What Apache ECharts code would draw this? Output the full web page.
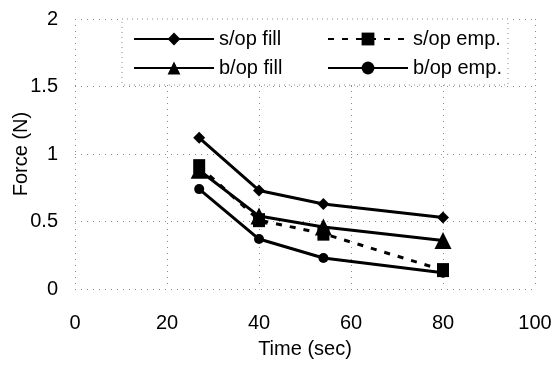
<!DOCTYPE html>
<html>
<head>
<meta charset="utf-8">
<script src="https://cdn.jsdelivr.net/npm/echarts@6/dist/echarts.min.js"></script>
<style>
  html, body { margin: 0; padding: 0; background: #fff; }
  #chart { width: 555px; height: 365px; }
</style>
</head>
<body>
<div id="chart"></div>
<script>
// Time (sec) at which each force was measured
const times = [27, 40, 54, 80];

// Force (N) for each condition
const sopFill = [1.12, 0.73, 0.63, 0.53];
const sopEmp  = [0.91, 0.51, 0.41, 0.14];
const bopFill = [0.88, 0.54, 0.46, 0.36];
const bopEmp  = [0.74, 0.37, 0.23, 0.12];

// Axis ticks
const xTicks = [0, 20, 40, 60, 80, 100];
const yTicks = [0, 0.5, 1, 1.5, 2];

const seriesNames = ['s/op fill', 's/op emp.', 'b/op fill', 'b/op emp.'];

const font = 'Liberation Sans, Arial, sans-serif';

function pairs(values) {
  return times.map((t, i) => [t, values[i]]);
}

const dotted = { color: '#8a8a8a', width: 1, type: [1, 5] };

const chart = echarts.init(document.getElementById('chart'), null, { renderer: 'canvas' });

chart.setOption({
  animation: false,
  backgroundColor: '#fff',
  grid: { left: 75, right: 20, top: 19, bottom: 76, containLabel: false, outerBoundsMode: 'none' },
  xAxis: {
    type: 'value',
    min: xTicks[0],
    max: xTicks[xTicks.length - 1],
    interval: xTicks[1] - xTicks[0],
    name: 'Time (sec)',
    nameLocation: 'middle',
    nameGap: 50,
    nameMoveOverlap: false,
    nameTextStyle: { fontFamily: font, fontSize: 20, color: '#000' },
    axisLine: { show: false },
    axisTick: { show: false },
    axisLabel: { margin: 24, fontFamily: font, fontSize: 20, color: '#000' },
    splitLine: { show: true, lineStyle: dotted }
  },
  yAxis: {
    type: 'value',
    min: yTicks[0],
    max: yTicks[yTicks.length - 1],
    interval: yTicks[1] - yTicks[0],
    name: 'Force (N)',
    nameLocation: 'middle',
    nameGap: 44,
    nameMoveOverlap: false,
    nameTextStyle: { fontFamily: font, fontSize: 20, color: '#000' },
    axisLine: { show: false },
    axisTick: { show: false },
    axisLabel: { margin: 17, fontFamily: font, fontSize: 20, color: '#000' },
    splitLine: { show: true, lineStyle: dotted }
  },
  graphic: [{
    type: 'rect',
    z: 50,
    shape: { x: 122, y: 19, width: 386, height: 66 },
    style: { fill: '#fff', stroke: '#8a8a8a', lineWidth: 1, lineDash: [1, 4] }
  }],
  legend: [
    {
      z: 60,
      data: [seriesNames[0], seriesNames[2]],
      orient: 'vertical',
      left: 128, top: 24,
      itemWidth: 80, itemHeight: 16, itemGap: 9,
      textStyle: { fontFamily: font, fontSize: 20, color: '#000' }
    },
    {
      z: 60,
      data: [seriesNames[1], seriesNames[3]],
      orient: 'vertical',
      left: 322, top: 24,
      itemWidth: 80, itemHeight: 16, itemGap: 9,
      textStyle: { fontFamily: font, fontSize: 20, color: '#000' }
    }
  ],
  series: [
    {
      name: seriesNames[0], type: 'line', data: pairs(sopFill),
      symbol: 'diamond', symbolSize: 12,
      lineStyle: { color: '#000', width: 3 },
      itemStyle: { color: '#000' }
    },
    {
      name: seriesNames[1], type: 'line', data: pairs(sopEmp),
      symbol: 'rect', symbolSize: [12, 14],
      lineStyle: { color: '#000', width: 3, type: [6, 8] },
      itemStyle: { color: '#000' }
    },
    {
      name: seriesNames[2], type: 'line', data: pairs(bopFill),
      symbol: 'triangle', symbolSize: 17,
      lineStyle: { color: '#000', width: 3 },
      itemStyle: { color: '#000' }
    },
    {
      name: seriesNames[3], type: 'line', data: pairs(bopEmp),
      symbol: 'circle', symbolSize: 10,
      lineStyle: { color: '#000', width: 3 },
      itemStyle: { color: '#000' }
    }
  ]
});
</script>
</body>
</html>
